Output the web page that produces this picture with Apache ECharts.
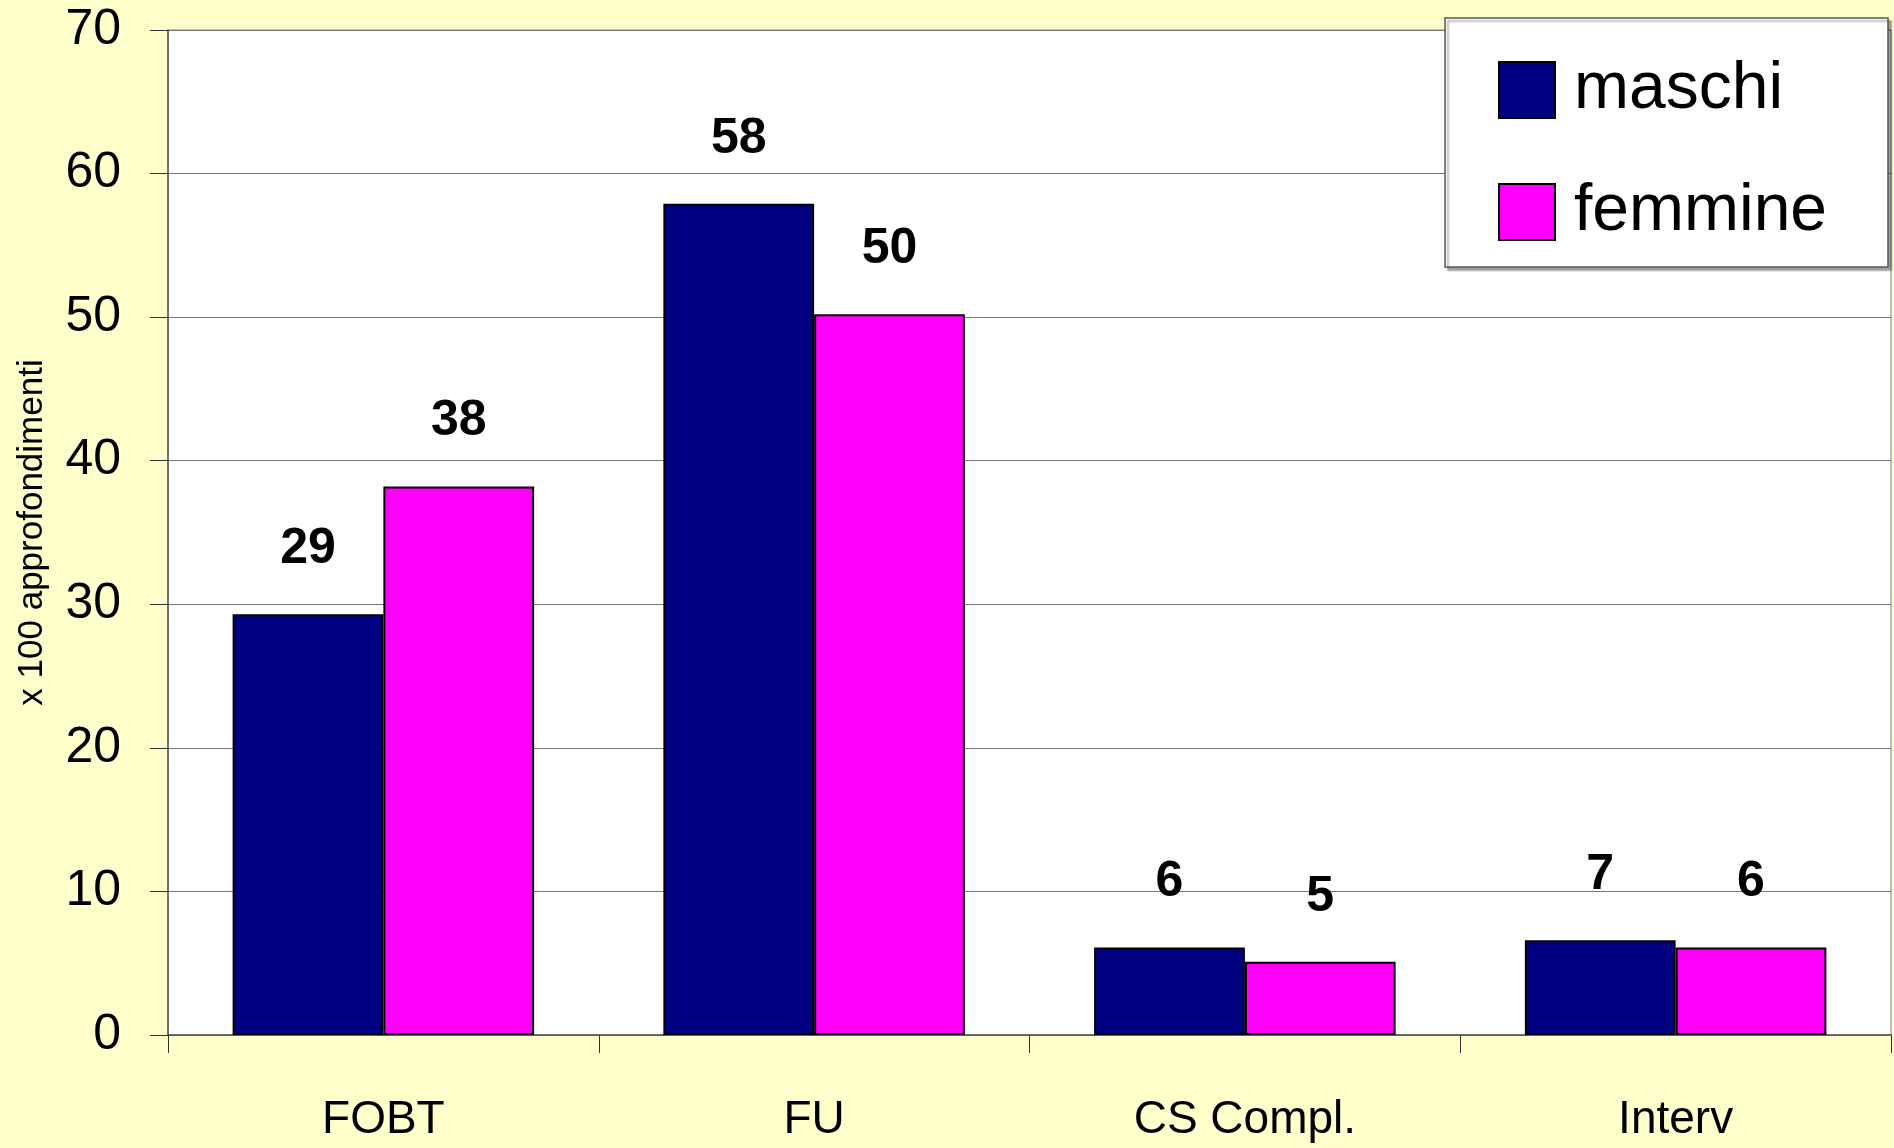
<!DOCTYPE html>
<html>
<head>
<meta charset="utf-8">
<script src="https://cdn.jsdelivr.net/npm/echarts@6/dist/echarts.min.js"></script>
<style>
html,body{margin:0;padding:0;background:#FFFFCC;}
#chart{width:1894px;height:1148px;}
</style>
</head>
<body>
<div id="chart"></div>
<script>
var categories = ['FOBT', 'FU', 'CS Compl.', 'Interv'];
var maschi = [29.3, 57.9, 6.1, 6.6];
var femmine = [38.2, 50.2, 5.1, 6.1];
var maschiLabels = ['29', '58', '6', '7'];
var femmineLabels = ['38', '50', '5', '6'];
var yTicks = [0, 10, 20, 30, 40, 50, 60, 70];
var yAxisName = 'x 100 approfondimenti';

var FONT = '"Liberation Sans", Arial, sans-serif';

function mkLabel(arr) {
  return {
    show: true,
    position: 'top',
    distance: 40,
    fontFamily: FONT,
    fontWeight: 'bold',
    fontSize: 50,
    color: '#000',
    formatter: function (p) { return arr[p.dataIndex]; }
  };
}

var chart = echarts.init(document.getElementById('chart'));
chart.setOption({
  backgroundColor: '#FFFFCC',
  animation: false,
  grid: {
    left: 168, right: 3, top: 30, bottom: 113,
    show: true, backgroundColor: '#FFFFFF',
    borderColor: '#808080', borderWidth: 1
  },
  graphic: [{
    type: 'rect', z: 50,
    shape: { x: 1445, y: 18, width: 443, height: 249 },
    style: { fill: '#FFFFFF', stroke: '#555555', lineWidth: 1.5,
             shadowColor: 'rgba(0,0,0,0.35)', shadowOffsetX: 3, shadowOffsetY: 3, shadowBlur: 2 }
  }],
  legend: {
    z: 60,
    orient: 'vertical',
    left: 1498, top: 57,
    padding: 0,
    itemGap: 56,
    itemWidth: 56, itemHeight: 56,
    icon: 'rect',
    textStyle: { fontFamily: FONT, fontSize: 66, lineHeight: 56, color: '#000', padding: [0, 0, 0, 14] },
    data: ['maschi', 'femmine']
  },
  xAxis: {
    type: 'category',
    data: categories,
    axisLine: { lineStyle: { color: '#555555', width: 1.5 } },
    axisTick: { show: true, length: 18, lineStyle: { color: '#333' } },
    axisLabel: { fontFamily: FONT, fontSize: 46, color: '#000', margin: 62 }
  },
  yAxis: {
    type: 'value',
    min: 0, max: 70, interval: 10,
    name: yAxisName,
    nameLocation: 'middle',
    nameGap: 118,
    nameRotate: 90,
    nameTextStyle: { fontFamily: FONT, fontSize: 35, color: '#000' },
    axisLine: { show: true, lineStyle: { color: '#555555', width: 1.5 } },
    axisTick: { show: true, length: 18, lineStyle: { color: '#333' } },
    axisLabel: {
      fontFamily: FONT, fontSize: 50, color: '#000', margin: 47,
      formatter: function (v) { return yTicks.indexOf(v) >= 0 ? String(v) : ''; }
    },
    splitLine: { show: true, lineStyle: { color: '#777777', width: 1.2 } }
  },
  series: [
    {
      name: 'maschi', type: 'bar', data: maschi,
      barGap: '0%', barCategoryGap: '30%',
      itemStyle: { color: '#000080', borderColor: '#000', borderWidth: 2 },
      label: mkLabel(maschiLabels)
    },
    {
      name: 'femmine', type: 'bar', data: femmine,
      itemStyle: { color: '#FF00FF', borderColor: '#000', borderWidth: 2 },
      label: mkLabel(femmineLabels)
    }
  ]
});
</script>
</body>
</html>
